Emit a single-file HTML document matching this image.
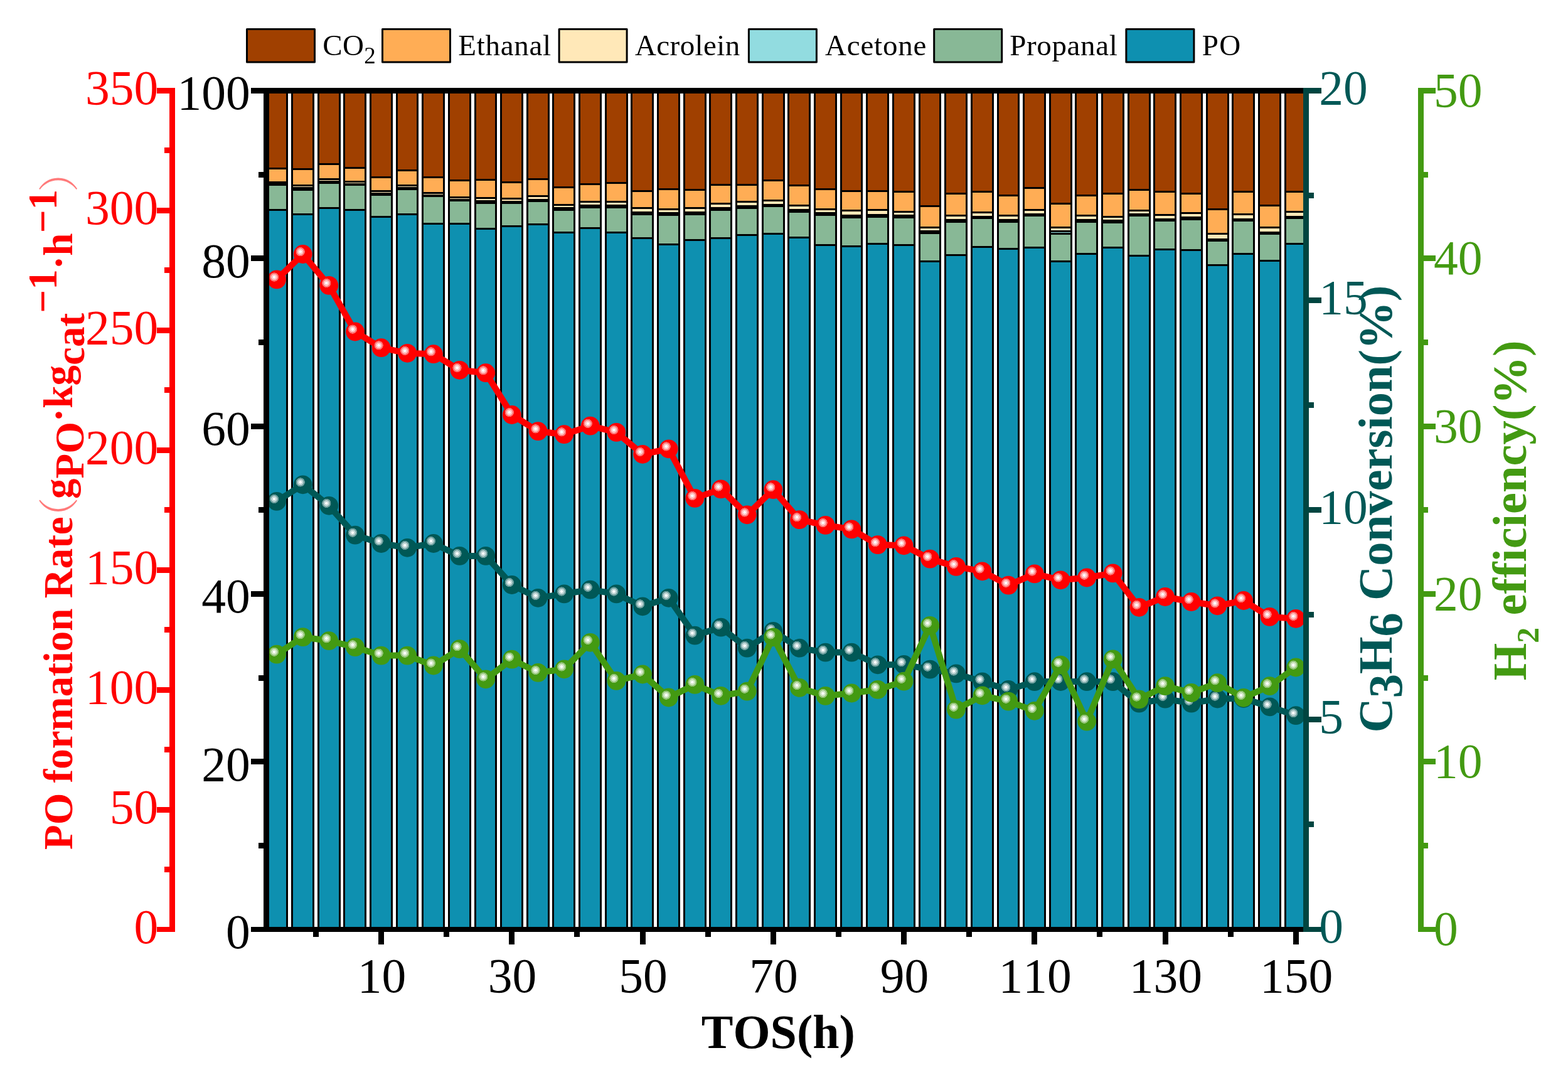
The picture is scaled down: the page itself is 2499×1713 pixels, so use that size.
<!DOCTYPE html>
<html lang="en"><head><meta charset="utf-8"><title>PO formation rate, conversion and selectivity vs TOS</title>
<style>html,body{margin:0;padding:0;background:#fff;}body{width:2499px;height:1713px;overflow:hidden;}svg{display:block;}text{font-family:'Liberation Serif','Noto Serif CJK SC',serif;font-variant-ligatures:none;font-kerning:none;}.b{font-weight:bold;}</style></head><body>
<svg width="2499" height="1713" viewBox="0 0 2499 1713" role="img" aria-label="Stacked bar and line chart">
<defs>
<clipPath id="plot"><rect x="429" y="149" width="1648" height="1328"/></clipPath>
<radialGradient id="gr" cx="0.366" cy="0.370" r="0.245" fx="0.366" fy="0.370"><stop offset="0" stop-color="#fff"/><stop offset="0.26" stop-color="#fff"/><stop offset="0.34" stop-color="#FFC4C4"/><stop offset="0.62" stop-color="#FFC4C4"/><stop offset="0.70" stop-color="#FF7474"/><stop offset="0.94" stop-color="#FF7474"/><stop offset="1" stop-color="#FF0000"/></radialGradient>
<radialGradient id="gt" cx="0.366" cy="0.370" r="0.245" fx="0.366" fy="0.370"><stop offset="0" stop-color="#fff"/><stop offset="0.26" stop-color="#fff"/><stop offset="0.34" stop-color="#BFD5D5"/><stop offset="0.62" stop-color="#BFD5D5"/><stop offset="0.70" stop-color="#70A1A0"/><stop offset="0.94" stop-color="#70A1A0"/><stop offset="1" stop-color="#005856"/></radialGradient>
<radialGradient id="gg" cx="0.366" cy="0.370" r="0.245" fx="0.366" fy="0.370"><stop offset="0" stop-color="#fff"/><stop offset="0.26" stop-color="#fff"/><stop offset="0.34" stop-color="#D0E6C4"/><stop offset="0.62" stop-color="#D0E6C4"/><stop offset="0.70" stop-color="#96C67A"/><stop offset="0.94" stop-color="#96C67A"/><stop offset="1" stop-color="#439A12"/></radialGradient>
</defs>
<rect width="2499" height="1713" fill="#fff"/>
<g clip-path="url(#plot)"><g stroke="#000" stroke-width="3" stroke-linejoin="miter">
<rect x="423.5" y="144.5" width="34.0" height="124.0" fill="#A04000"/>
<rect x="423.5" y="268.5" width="34.0" height="22.0" fill="#FFAD55"/>
<rect x="423.5" y="290.5" width="34.0" height="2.0" fill="#FFE8B8"/>
<rect x="423.5" y="292.5" width="34.0" height="2.0" fill="#92DCE0"/>
<rect x="423.5" y="294.5" width="34.0" height="40.0" fill="#88B896"/>
<rect x="423.5" y="334.5" width="34.0" height="1146.5" fill="#0E90B0"/>
<rect x="465.5" y="144.5" width="34.0" height="125.0" fill="#A04000"/>
<rect x="465.5" y="269.5" width="34.0" height="26.0" fill="#FFAD55"/>
<rect x="465.5" y="295.5" width="34.0" height="4.0" fill="#FFE8B8"/>
<rect x="465.5" y="299.5" width="34.0" height="3.0" fill="#92DCE0"/>
<rect x="465.5" y="302.5" width="34.0" height="39.0" fill="#88B896"/>
<rect x="465.5" y="341.5" width="34.0" height="1139.5" fill="#0E90B0"/>
<rect x="507.5" y="144.5" width="34.0" height="117.0" fill="#A04000"/>
<rect x="507.5" y="261.5" width="34.0" height="24.0" fill="#FFAD55"/>
<rect x="507.5" y="285.5" width="34.0" height="4.0" fill="#FFE8B8"/>
<rect x="507.5" y="289.5" width="34.0" height="2.0" fill="#92DCE0"/>
<rect x="507.5" y="291.5" width="34.0" height="40.0" fill="#88B896"/>
<rect x="507.5" y="331.5" width="34.0" height="1149.5" fill="#0E90B0"/>
<rect x="548.5" y="144.5" width="34.0" height="123.0" fill="#A04000"/>
<rect x="548.5" y="267.5" width="34.0" height="22.0" fill="#FFAD55"/>
<rect x="548.5" y="289.5" width="34.0" height="4.0" fill="#FFE8B8"/>
<rect x="548.5" y="293.5" width="34.0" height="1.0" fill="#92DCE0"/>
<rect x="548.5" y="294.5" width="34.0" height="40.0" fill="#88B896"/>
<rect x="548.5" y="334.5" width="34.0" height="1146.5" fill="#0E90B0"/>
<rect x="590.5" y="144.5" width="34.0" height="138.0" fill="#A04000"/>
<rect x="590.5" y="282.5" width="34.0" height="22.0" fill="#FFAD55"/>
<rect x="590.5" y="304.5" width="34.0" height="4.0" fill="#FFE8B8"/>
<rect x="590.5" y="308.5" width="34.0" height="2.0" fill="#92DCE0"/>
<rect x="590.5" y="310.5" width="34.0" height="35.0" fill="#88B896"/>
<rect x="590.5" y="345.5" width="34.0" height="1135.5" fill="#0E90B0"/>
<rect x="632.5" y="144.5" width="33.0" height="127.0" fill="#A04000"/>
<rect x="632.5" y="271.5" width="33.0" height="24.0" fill="#FFAD55"/>
<rect x="632.5" y="295.5" width="33.0" height="4.0" fill="#FFE8B8"/>
<rect x="632.5" y="299.5" width="33.0" height="2.0" fill="#92DCE0"/>
<rect x="632.5" y="301.5" width="33.0" height="40.0" fill="#88B896"/>
<rect x="632.5" y="341.5" width="33.0" height="1139.5" fill="#0E90B0"/>
<rect x="673.5" y="144.5" width="34.0" height="138.0" fill="#A04000"/>
<rect x="673.5" y="282.5" width="34.0" height="25.0" fill="#FFAD55"/>
<rect x="673.5" y="307.5" width="34.0" height="4.0" fill="#FFE8B8"/>
<rect x="673.5" y="311.5" width="34.0" height="1.0" fill="#92DCE0"/>
<rect x="673.5" y="312.5" width="34.0" height="44.0" fill="#88B896"/>
<rect x="673.5" y="356.5" width="34.0" height="1124.5" fill="#0E90B0"/>
<rect x="715.5" y="144.5" width="34.0" height="143.0" fill="#A04000"/>
<rect x="715.5" y="287.5" width="34.0" height="27.0" fill="#FFAD55"/>
<rect x="715.5" y="314.5" width="34.0" height="4.0" fill="#FFE8B8"/>
<rect x="715.5" y="318.5" width="34.0" height="1.0" fill="#92DCE0"/>
<rect x="715.5" y="319.5" width="34.0" height="37.0" fill="#88B896"/>
<rect x="715.5" y="356.5" width="34.0" height="1124.5" fill="#0E90B0"/>
<rect x="757.5" y="144.5" width="33.0" height="142.0" fill="#A04000"/>
<rect x="757.5" y="286.5" width="33.0" height="29.0" fill="#FFAD55"/>
<rect x="757.5" y="315.5" width="33.0" height="5.0" fill="#FFE8B8"/>
<rect x="757.5" y="320.5" width="33.0" height="3.0" fill="#92DCE0"/>
<rect x="757.5" y="323.5" width="33.0" height="41.0" fill="#88B896"/>
<rect x="757.5" y="364.5" width="33.0" height="1116.5" fill="#0E90B0"/>
<rect x="798.5" y="144.5" width="34.0" height="146.0" fill="#A04000"/>
<rect x="798.5" y="290.5" width="34.0" height="26.0" fill="#FFAD55"/>
<rect x="798.5" y="316.5" width="34.0" height="5.0" fill="#FFE8B8"/>
<rect x="798.5" y="321.5" width="34.0" height="2.0" fill="#92DCE0"/>
<rect x="798.5" y="323.5" width="34.0" height="37.0" fill="#88B896"/>
<rect x="798.5" y="360.5" width="34.0" height="1120.5" fill="#0E90B0"/>
<rect x="840.5" y="144.5" width="34.0" height="141.0" fill="#A04000"/>
<rect x="840.5" y="285.5" width="34.0" height="27.0" fill="#FFAD55"/>
<rect x="840.5" y="312.5" width="34.0" height="6.0" fill="#FFE8B8"/>
<rect x="840.5" y="318.5" width="34.0" height="2.0" fill="#92DCE0"/>
<rect x="840.5" y="320.5" width="34.0" height="37.0" fill="#88B896"/>
<rect x="840.5" y="357.5" width="34.0" height="1123.5" fill="#0E90B0"/>
<rect x="881.5" y="144.5" width="34.0" height="154.0" fill="#A04000"/>
<rect x="881.5" y="298.5" width="34.0" height="28.0" fill="#FFAD55"/>
<rect x="881.5" y="326.5" width="34.0" height="5.0" fill="#FFE8B8"/>
<rect x="881.5" y="331.5" width="34.0" height="3.0" fill="#92DCE0"/>
<rect x="881.5" y="334.5" width="34.0" height="36.0" fill="#88B896"/>
<rect x="881.5" y="370.5" width="34.0" height="1110.5" fill="#0E90B0"/>
<rect x="923.5" y="144.5" width="34.0" height="149.0" fill="#A04000"/>
<rect x="923.5" y="293.5" width="34.0" height="28.0" fill="#FFAD55"/>
<rect x="923.5" y="321.5" width="34.0" height="6.0" fill="#FFE8B8"/>
<rect x="923.5" y="327.5" width="34.0" height="3.0" fill="#92DCE0"/>
<rect x="923.5" y="330.5" width="34.0" height="33.0" fill="#88B896"/>
<rect x="923.5" y="363.5" width="34.0" height="1117.5" fill="#0E90B0"/>
<rect x="965.5" y="144.5" width="34.0" height="147.0" fill="#A04000"/>
<rect x="965.5" y="291.5" width="34.0" height="30.0" fill="#FFAD55"/>
<rect x="965.5" y="321.5" width="34.0" height="6.0" fill="#FFE8B8"/>
<rect x="965.5" y="327.5" width="34.0" height="3.0" fill="#92DCE0"/>
<rect x="965.5" y="330.5" width="34.0" height="40.0" fill="#88B896"/>
<rect x="965.5" y="370.5" width="34.0" height="1110.5" fill="#0E90B0"/>
<rect x="1006.5" y="144.5" width="34.0" height="160.0" fill="#A04000"/>
<rect x="1006.5" y="304.5" width="34.0" height="27.0" fill="#FFAD55"/>
<rect x="1006.5" y="331.5" width="34.0" height="7.0" fill="#FFE8B8"/>
<rect x="1006.5" y="338.5" width="34.0" height="3.0" fill="#92DCE0"/>
<rect x="1006.5" y="341.5" width="34.0" height="38.0" fill="#88B896"/>
<rect x="1006.5" y="379.5" width="34.0" height="1101.5" fill="#0E90B0"/>
<rect x="1048.5" y="144.5" width="34.0" height="157.0" fill="#A04000"/>
<rect x="1048.5" y="301.5" width="34.0" height="32.0" fill="#FFAD55"/>
<rect x="1048.5" y="333.5" width="34.0" height="6.0" fill="#FFE8B8"/>
<rect x="1048.5" y="339.5" width="34.0" height="3.0" fill="#92DCE0"/>
<rect x="1048.5" y="342.5" width="34.0" height="47.0" fill="#88B896"/>
<rect x="1048.5" y="389.5" width="34.0" height="1091.5" fill="#0E90B0"/>
<rect x="1090.5" y="144.5" width="34.0" height="158.0" fill="#A04000"/>
<rect x="1090.5" y="302.5" width="34.0" height="29.0" fill="#FFAD55"/>
<rect x="1090.5" y="331.5" width="34.0" height="7.0" fill="#FFE8B8"/>
<rect x="1090.5" y="338.5" width="34.0" height="3.0" fill="#92DCE0"/>
<rect x="1090.5" y="341.5" width="34.0" height="41.0" fill="#88B896"/>
<rect x="1090.5" y="382.5" width="34.0" height="1098.5" fill="#0E90B0"/>
<rect x="1131.5" y="144.5" width="34.0" height="150.0" fill="#A04000"/>
<rect x="1131.5" y="294.5" width="34.0" height="30.0" fill="#FFAD55"/>
<rect x="1131.5" y="324.5" width="34.0" height="7.0" fill="#FFE8B8"/>
<rect x="1131.5" y="331.5" width="34.0" height="3.0" fill="#92DCE0"/>
<rect x="1131.5" y="334.5" width="34.0" height="45.0" fill="#88B896"/>
<rect x="1131.5" y="379.5" width="34.0" height="1101.5" fill="#0E90B0"/>
<rect x="1173.5" y="144.5" width="34.0" height="150.0" fill="#A04000"/>
<rect x="1173.5" y="294.5" width="34.0" height="27.0" fill="#FFAD55"/>
<rect x="1173.5" y="321.5" width="34.0" height="7.0" fill="#FFE8B8"/>
<rect x="1173.5" y="328.5" width="34.0" height="3.0" fill="#92DCE0"/>
<rect x="1173.5" y="331.5" width="34.0" height="43.0" fill="#88B896"/>
<rect x="1173.5" y="374.5" width="34.0" height="1106.5" fill="#0E90B0"/>
<rect x="1215.5" y="144.5" width="34.0" height="143.0" fill="#A04000"/>
<rect x="1215.5" y="287.5" width="34.0" height="32.0" fill="#FFAD55"/>
<rect x="1215.5" y="319.5" width="34.0" height="7.0" fill="#FFE8B8"/>
<rect x="1215.5" y="326.5" width="34.0" height="2.0" fill="#92DCE0"/>
<rect x="1215.5" y="328.5" width="34.0" height="44.0" fill="#88B896"/>
<rect x="1215.5" y="372.5" width="34.0" height="1108.5" fill="#0E90B0"/>
<rect x="1256.5" y="144.5" width="34.0" height="151.0" fill="#A04000"/>
<rect x="1256.5" y="295.5" width="34.0" height="32.0" fill="#FFAD55"/>
<rect x="1256.5" y="327.5" width="34.0" height="7.0" fill="#FFE8B8"/>
<rect x="1256.5" y="334.5" width="34.0" height="3.0" fill="#92DCE0"/>
<rect x="1256.5" y="337.5" width="34.0" height="41.0" fill="#88B896"/>
<rect x="1256.5" y="378.5" width="34.0" height="1102.5" fill="#0E90B0"/>
<rect x="1298.5" y="144.5" width="34.0" height="157.0" fill="#A04000"/>
<rect x="1298.5" y="301.5" width="34.0" height="32.0" fill="#FFAD55"/>
<rect x="1298.5" y="333.5" width="34.0" height="6.0" fill="#FFE8B8"/>
<rect x="1298.5" y="339.5" width="34.0" height="3.0" fill="#92DCE0"/>
<rect x="1298.5" y="342.5" width="34.0" height="48.0" fill="#88B896"/>
<rect x="1298.5" y="390.5" width="34.0" height="1090.5" fill="#0E90B0"/>
<rect x="1340.5" y="144.5" width="33.0" height="160.0" fill="#A04000"/>
<rect x="1340.5" y="304.5" width="33.0" height="31.0" fill="#FFAD55"/>
<rect x="1340.5" y="335.5" width="33.0" height="8.0" fill="#FFE8B8"/>
<rect x="1340.5" y="343.5" width="33.0" height="3.0" fill="#92DCE0"/>
<rect x="1340.5" y="346.5" width="33.0" height="46.0" fill="#88B896"/>
<rect x="1340.5" y="392.5" width="33.0" height="1088.5" fill="#0E90B0"/>
<rect x="1381.5" y="144.5" width="34.0" height="160.0" fill="#A04000"/>
<rect x="1381.5" y="304.5" width="34.0" height="30.0" fill="#FFAD55"/>
<rect x="1381.5" y="334.5" width="34.0" height="8.0" fill="#FFE8B8"/>
<rect x="1381.5" y="342.5" width="34.0" height="3.0" fill="#92DCE0"/>
<rect x="1381.5" y="345.5" width="34.0" height="43.0" fill="#88B896"/>
<rect x="1381.5" y="388.5" width="34.0" height="1092.5" fill="#0E90B0"/>
<rect x="1423.5" y="144.5" width="34.0" height="161.0" fill="#A04000"/>
<rect x="1423.5" y="305.5" width="34.0" height="32.0" fill="#FFAD55"/>
<rect x="1423.5" y="337.5" width="34.0" height="6.0" fill="#FFE8B8"/>
<rect x="1423.5" y="343.5" width="34.0" height="3.0" fill="#92DCE0"/>
<rect x="1423.5" y="346.5" width="34.0" height="44.0" fill="#88B896"/>
<rect x="1423.5" y="390.5" width="34.0" height="1090.5" fill="#0E90B0"/>
<rect x="1465.5" y="144.5" width="33.0" height="184.0" fill="#A04000"/>
<rect x="1465.5" y="328.5" width="33.0" height="34.0" fill="#FFAD55"/>
<rect x="1465.5" y="362.5" width="33.0" height="6.0" fill="#FFE8B8"/>
<rect x="1465.5" y="368.5" width="33.0" height="3.0" fill="#92DCE0"/>
<rect x="1465.5" y="371.5" width="33.0" height="45.0" fill="#88B896"/>
<rect x="1465.5" y="416.5" width="33.0" height="1064.5" fill="#0E90B0"/>
<rect x="1506.5" y="144.5" width="34.0" height="164.0" fill="#A04000"/>
<rect x="1506.5" y="308.5" width="34.0" height="35.0" fill="#FFAD55"/>
<rect x="1506.5" y="343.5" width="34.0" height="7.0" fill="#FFE8B8"/>
<rect x="1506.5" y="350.5" width="34.0" height="3.0" fill="#92DCE0"/>
<rect x="1506.5" y="353.5" width="34.0" height="53.0" fill="#88B896"/>
<rect x="1506.5" y="406.5" width="34.0" height="1074.5" fill="#0E90B0"/>
<rect x="1548.5" y="144.5" width="34.0" height="161.0" fill="#A04000"/>
<rect x="1548.5" y="305.5" width="34.0" height="33.0" fill="#FFAD55"/>
<rect x="1548.5" y="338.5" width="34.0" height="7.0" fill="#FFE8B8"/>
<rect x="1548.5" y="345.5" width="34.0" height="2.0" fill="#92DCE0"/>
<rect x="1548.5" y="347.5" width="34.0" height="46.0" fill="#88B896"/>
<rect x="1548.5" y="393.5" width="34.0" height="1087.5" fill="#0E90B0"/>
<rect x="1590.5" y="144.5" width="33.0" height="167.0" fill="#A04000"/>
<rect x="1590.5" y="311.5" width="33.0" height="32.0" fill="#FFAD55"/>
<rect x="1590.5" y="343.5" width="33.0" height="7.0" fill="#FFE8B8"/>
<rect x="1590.5" y="350.5" width="33.0" height="3.0" fill="#92DCE0"/>
<rect x="1590.5" y="353.5" width="33.0" height="43.0" fill="#88B896"/>
<rect x="1590.5" y="396.5" width="33.0" height="1084.5" fill="#0E90B0"/>
<rect x="1631.5" y="144.5" width="34.0" height="155.0" fill="#A04000"/>
<rect x="1631.5" y="299.5" width="34.0" height="35.0" fill="#FFAD55"/>
<rect x="1631.5" y="334.5" width="34.0" height="7.0" fill="#FFE8B8"/>
<rect x="1631.5" y="341.5" width="34.0" height="2.0" fill="#92DCE0"/>
<rect x="1631.5" y="343.5" width="34.0" height="51.0" fill="#88B896"/>
<rect x="1631.5" y="394.5" width="34.0" height="1086.5" fill="#0E90B0"/>
<rect x="1673.5" y="144.5" width="34.0" height="180.0" fill="#A04000"/>
<rect x="1673.5" y="324.5" width="34.0" height="38.0" fill="#FFAD55"/>
<rect x="1673.5" y="362.5" width="34.0" height="6.0" fill="#FFE8B8"/>
<rect x="1673.5" y="368.5" width="34.0" height="4.0" fill="#92DCE0"/>
<rect x="1673.5" y="372.5" width="34.0" height="44.0" fill="#88B896"/>
<rect x="1673.5" y="416.5" width="34.0" height="1064.5" fill="#0E90B0"/>
<rect x="1714.5" y="144.5" width="34.0" height="167.0" fill="#A04000"/>
<rect x="1714.5" y="311.5" width="34.0" height="32.0" fill="#FFAD55"/>
<rect x="1714.5" y="343.5" width="34.0" height="7.0" fill="#FFE8B8"/>
<rect x="1714.5" y="350.5" width="34.0" height="3.0" fill="#92DCE0"/>
<rect x="1714.5" y="353.5" width="34.0" height="51.0" fill="#88B896"/>
<rect x="1714.5" y="404.5" width="34.0" height="1076.5" fill="#0E90B0"/>
<rect x="1756.5" y="144.5" width="34.0" height="164.0" fill="#A04000"/>
<rect x="1756.5" y="308.5" width="34.0" height="37.0" fill="#FFAD55"/>
<rect x="1756.5" y="345.5" width="34.0" height="6.0" fill="#FFE8B8"/>
<rect x="1756.5" y="351.5" width="34.0" height="3.0" fill="#92DCE0"/>
<rect x="1756.5" y="354.5" width="34.0" height="40.0" fill="#88B896"/>
<rect x="1756.5" y="394.5" width="34.0" height="1086.5" fill="#0E90B0"/>
<rect x="1798.5" y="144.5" width="34.0" height="158.0" fill="#A04000"/>
<rect x="1798.5" y="302.5" width="34.0" height="33.0" fill="#FFAD55"/>
<rect x="1798.5" y="335.5" width="34.0" height="6.0" fill="#FFE8B8"/>
<rect x="1798.5" y="341.5" width="34.0" height="2.0" fill="#92DCE0"/>
<rect x="1798.5" y="343.5" width="34.0" height="64.0" fill="#88B896"/>
<rect x="1798.5" y="407.5" width="34.0" height="1073.5" fill="#0E90B0"/>
<rect x="1839.5" y="144.5" width="34.0" height="161.0" fill="#A04000"/>
<rect x="1839.5" y="305.5" width="34.0" height="37.0" fill="#FFAD55"/>
<rect x="1839.5" y="342.5" width="34.0" height="7.0" fill="#FFE8B8"/>
<rect x="1839.5" y="349.5" width="34.0" height="2.0" fill="#92DCE0"/>
<rect x="1839.5" y="351.5" width="34.0" height="46.0" fill="#88B896"/>
<rect x="1839.5" y="397.5" width="34.0" height="1083.5" fill="#0E90B0"/>
<rect x="1881.5" y="144.5" width="34.0" height="164.0" fill="#A04000"/>
<rect x="1881.5" y="308.5" width="34.0" height="31.0" fill="#FFAD55"/>
<rect x="1881.5" y="339.5" width="34.0" height="7.0" fill="#FFE8B8"/>
<rect x="1881.5" y="346.5" width="34.0" height="3.0" fill="#92DCE0"/>
<rect x="1881.5" y="349.5" width="34.0" height="49.0" fill="#88B896"/>
<rect x="1881.5" y="398.5" width="34.0" height="1082.5" fill="#0E90B0"/>
<rect x="1923.5" y="144.5" width="34.0" height="189.0" fill="#A04000"/>
<rect x="1923.5" y="333.5" width="34.0" height="39.0" fill="#FFAD55"/>
<rect x="1923.5" y="372.5" width="34.0" height="9.0" fill="#FFE8B8"/>
<rect x="1923.5" y="381.5" width="34.0" height="2.0" fill="#92DCE0"/>
<rect x="1923.5" y="383.5" width="34.0" height="39.0" fill="#88B896"/>
<rect x="1923.5" y="422.5" width="34.0" height="1058.5" fill="#0E90B0"/>
<rect x="1964.5" y="144.5" width="34.0" height="161.0" fill="#A04000"/>
<rect x="1964.5" y="305.5" width="34.0" height="36.0" fill="#FFAD55"/>
<rect x="1964.5" y="341.5" width="34.0" height="8.0" fill="#FFE8B8"/>
<rect x="1964.5" y="349.5" width="34.0" height="2.0" fill="#92DCE0"/>
<rect x="1964.5" y="351.5" width="34.0" height="53.0" fill="#88B896"/>
<rect x="1964.5" y="404.5" width="34.0" height="1076.5" fill="#0E90B0"/>
<rect x="2006.5" y="144.5" width="34.0" height="183.0" fill="#A04000"/>
<rect x="2006.5" y="327.5" width="34.0" height="35.0" fill="#FFAD55"/>
<rect x="2006.5" y="362.5" width="34.0" height="8.0" fill="#FFE8B8"/>
<rect x="2006.5" y="370.5" width="34.0" height="2.0" fill="#92DCE0"/>
<rect x="2006.5" y="372.5" width="34.0" height="43.0" fill="#88B896"/>
<rect x="2006.5" y="415.5" width="34.0" height="1065.5" fill="#0E90B0"/>
<rect x="2048.5" y="144.5" width="33.0" height="161.0" fill="#A04000"/>
<rect x="2048.5" y="305.5" width="33.0" height="32.0" fill="#FFAD55"/>
<rect x="2048.5" y="337.5" width="33.0" height="8.0" fill="#FFE8B8"/>
<rect x="2048.5" y="345.5" width="33.0" height="2.0" fill="#92DCE0"/>
<rect x="2048.5" y="347.5" width="33.0" height="41.0" fill="#88B896"/>
<rect x="2048.5" y="388.5" width="33.0" height="1092.5" fill="#0E90B0"/>
</g>
<polyline points="441.0,445.4 482.7,405.0 524.3,454.9 566.0,528.5 607.6,554.2 649.2,562.8 690.9,564.2 732.5,589.8 774.2,594.2 815.8,661.0 857.5,687.2 899.1,692.2 940.8,678.7 982.4,688.9 1024.1,723.8 1065.7,715.3 1107.4,793.9 1149.0,779.4 1190.7,820.3 1232.3,780.2 1274.0,828.1 1315.6,836.9 1357.3,843.4 1398.9,868.1 1440.6,869.3 1482.2,890.7 1523.9,902.9 1565.5,910.3 1607.2,932.7 1648.8,914.4 1690.4,924.3 1732.1,920.5 1773.7,913.4 1815.4,967.8 1857.0,951.0 1898.7,959.0 1940.3,965.3 1982.0,957.0 2023.6,982.9 2065.3,985.8" fill="none" stroke="#FF0000" stroke-width="10" stroke-linejoin="round" stroke-linecap="round"/>
<g fill="url(#gr)">
<circle cx="441.0" cy="445.4" r="14.9"/>
<circle cx="482.7" cy="405.0" r="14.9"/>
<circle cx="524.3" cy="454.9" r="14.9"/>
<circle cx="566.0" cy="528.5" r="14.9"/>
<circle cx="607.6" cy="554.2" r="14.9"/>
<circle cx="649.2" cy="562.8" r="14.9"/>
<circle cx="690.9" cy="564.2" r="14.9"/>
<circle cx="732.5" cy="589.8" r="14.9"/>
<circle cx="774.2" cy="594.2" r="14.9"/>
<circle cx="815.8" cy="661.0" r="14.9"/>
<circle cx="857.5" cy="687.2" r="14.9"/>
<circle cx="899.1" cy="692.2" r="14.9"/>
<circle cx="940.8" cy="678.7" r="14.9"/>
<circle cx="982.4" cy="688.9" r="14.9"/>
<circle cx="1024.1" cy="723.8" r="14.9"/>
<circle cx="1065.7" cy="715.3" r="14.9"/>
<circle cx="1107.4" cy="793.9" r="14.9"/>
<circle cx="1149.0" cy="779.4" r="14.9"/>
<circle cx="1190.7" cy="820.3" r="14.9"/>
<circle cx="1232.3" cy="780.2" r="14.9"/>
<circle cx="1274.0" cy="828.1" r="14.9"/>
<circle cx="1315.6" cy="836.9" r="14.9"/>
<circle cx="1357.3" cy="843.4" r="14.9"/>
<circle cx="1398.9" cy="868.1" r="14.9"/>
<circle cx="1440.6" cy="869.3" r="14.9"/>
<circle cx="1482.2" cy="890.7" r="14.9"/>
<circle cx="1523.9" cy="902.9" r="14.9"/>
<circle cx="1565.5" cy="910.3" r="14.9"/>
<circle cx="1607.2" cy="932.7" r="14.9"/>
<circle cx="1648.8" cy="914.4" r="14.9"/>
<circle cx="1690.4" cy="924.3" r="14.9"/>
<circle cx="1732.1" cy="920.5" r="14.9"/>
<circle cx="1773.7" cy="913.4" r="14.9"/>
<circle cx="1815.4" cy="967.8" r="14.9"/>
<circle cx="1857.0" cy="951.0" r="14.9"/>
<circle cx="1898.7" cy="959.0" r="14.9"/>
<circle cx="1940.3" cy="965.3" r="14.9"/>
<circle cx="1982.0" cy="957.0" r="14.9"/>
<circle cx="2023.6" cy="982.9" r="14.9"/>
<circle cx="2065.3" cy="985.8" r="14.9"/>
</g>
<polyline points="441.0,798.9 482.7,772.3 524.3,805.8 566.0,852.6 607.6,866.0 649.2,872.8 690.9,866.0 732.5,885.9 774.2,885.9 815.8,932.0 857.5,952.8 899.1,946.4 940.8,939.7 982.4,946.4 1024.1,966.3 1065.7,952.8 1107.4,1012.6 1149.0,999.7 1190.7,1032.7 1232.3,1005.8 1274.0,1032.7 1315.6,1039.6 1357.3,1039.6 1398.9,1059.3 1440.6,1059.0 1482.2,1066.6 1523.9,1073.4 1565.5,1086.4 1607.2,1099.0 1648.8,1086.2 1690.4,1086.0 1732.1,1086.2 1773.7,1086.2 1815.4,1120.6 1857.0,1113.7 1898.7,1120.6 1940.3,1113.5 1982.0,1113.0 2023.6,1126.3 2065.3,1140.1" fill="none" stroke="#005856" stroke-width="10" stroke-linejoin="round" stroke-linecap="round"/>
<g fill="url(#gt)">
<circle cx="441.0" cy="798.9" r="14.9"/>
<circle cx="482.7" cy="772.3" r="14.9"/>
<circle cx="524.3" cy="805.8" r="14.9"/>
<circle cx="566.0" cy="852.6" r="14.9"/>
<circle cx="607.6" cy="866.0" r="14.9"/>
<circle cx="649.2" cy="872.8" r="14.9"/>
<circle cx="690.9" cy="866.0" r="14.9"/>
<circle cx="732.5" cy="885.9" r="14.9"/>
<circle cx="774.2" cy="885.9" r="14.9"/>
<circle cx="815.8" cy="932.0" r="14.9"/>
<circle cx="857.5" cy="952.8" r="14.9"/>
<circle cx="899.1" cy="946.4" r="14.9"/>
<circle cx="940.8" cy="939.7" r="14.9"/>
<circle cx="982.4" cy="946.4" r="14.9"/>
<circle cx="1024.1" cy="966.3" r="14.9"/>
<circle cx="1065.7" cy="952.8" r="14.9"/>
<circle cx="1107.4" cy="1012.6" r="14.9"/>
<circle cx="1149.0" cy="999.7" r="14.9"/>
<circle cx="1190.7" cy="1032.7" r="14.9"/>
<circle cx="1232.3" cy="1005.8" r="14.9"/>
<circle cx="1274.0" cy="1032.7" r="14.9"/>
<circle cx="1315.6" cy="1039.6" r="14.9"/>
<circle cx="1357.3" cy="1039.6" r="14.9"/>
<circle cx="1398.9" cy="1059.3" r="14.9"/>
<circle cx="1440.6" cy="1059.0" r="14.9"/>
<circle cx="1482.2" cy="1066.6" r="14.9"/>
<circle cx="1523.9" cy="1073.4" r="14.9"/>
<circle cx="1565.5" cy="1086.4" r="14.9"/>
<circle cx="1607.2" cy="1099.0" r="14.9"/>
<circle cx="1648.8" cy="1086.2" r="14.9"/>
<circle cx="1690.4" cy="1086.0" r="14.9"/>
<circle cx="1732.1" cy="1086.2" r="14.9"/>
<circle cx="1773.7" cy="1086.2" r="14.9"/>
<circle cx="1815.4" cy="1120.6" r="14.9"/>
<circle cx="1857.0" cy="1113.7" r="14.9"/>
<circle cx="1898.7" cy="1120.6" r="14.9"/>
<circle cx="1940.3" cy="1113.5" r="14.9"/>
<circle cx="1982.0" cy="1113.0" r="14.9"/>
<circle cx="2023.6" cy="1126.3" r="14.9"/>
<circle cx="2065.3" cy="1140.1" r="14.9"/>
</g>
<polyline points="441.0,1042.6 482.7,1015.1 524.3,1021.2 566.0,1031.2 607.6,1044.6 649.2,1044.6 690.9,1060.5 732.5,1034.1 774.2,1082.3 815.8,1050.6 857.5,1071.9 899.1,1066.3 940.8,1023.8 982.4,1084.9 1024.1,1074.5 1065.7,1111.5 1107.4,1090.9 1149.0,1108.8 1190.7,1101.6 1232.3,1015.3 1274.0,1095.9 1315.6,1108.9 1357.3,1104.5 1398.9,1098.9 1440.6,1085.7 1482.2,996.8 1523.9,1130.6 1565.5,1108.3 1607.2,1117.6 1648.8,1132.8 1690.4,1059.6 1732.1,1149.6 1773.7,1050.3 1815.4,1114.4 1857.0,1093.1 1898.7,1104.0 1940.3,1088.2 1982.0,1111.8 2023.6,1093.2 2065.3,1063.5" fill="none" stroke="#439A12" stroke-width="10" stroke-linejoin="round" stroke-linecap="round"/>
<g fill="url(#gg)">
<circle cx="441.0" cy="1042.6" r="14.9"/>
<circle cx="482.7" cy="1015.1" r="14.9"/>
<circle cx="524.3" cy="1021.2" r="14.9"/>
<circle cx="566.0" cy="1031.2" r="14.9"/>
<circle cx="607.6" cy="1044.6" r="14.9"/>
<circle cx="649.2" cy="1044.6" r="14.9"/>
<circle cx="690.9" cy="1060.5" r="14.9"/>
<circle cx="732.5" cy="1034.1" r="14.9"/>
<circle cx="774.2" cy="1082.3" r="14.9"/>
<circle cx="815.8" cy="1050.6" r="14.9"/>
<circle cx="857.5" cy="1071.9" r="14.9"/>
<circle cx="899.1" cy="1066.3" r="14.9"/>
<circle cx="940.8" cy="1023.8" r="14.9"/>
<circle cx="982.4" cy="1084.9" r="14.9"/>
<circle cx="1024.1" cy="1074.5" r="14.9"/>
<circle cx="1065.7" cy="1111.5" r="14.9"/>
<circle cx="1107.4" cy="1090.9" r="14.9"/>
<circle cx="1149.0" cy="1108.8" r="14.9"/>
<circle cx="1190.7" cy="1101.6" r="14.9"/>
<circle cx="1232.3" cy="1015.3" r="14.9"/>
<circle cx="1274.0" cy="1095.9" r="14.9"/>
<circle cx="1315.6" cy="1108.9" r="14.9"/>
<circle cx="1357.3" cy="1104.5" r="14.9"/>
<circle cx="1398.9" cy="1098.9" r="14.9"/>
<circle cx="1440.6" cy="1085.7" r="14.9"/>
<circle cx="1482.2" cy="996.8" r="14.9"/>
<circle cx="1523.9" cy="1130.6" r="14.9"/>
<circle cx="1565.5" cy="1108.3" r="14.9"/>
<circle cx="1607.2" cy="1117.6" r="14.9"/>
<circle cx="1648.8" cy="1132.8" r="14.9"/>
<circle cx="1690.4" cy="1059.6" r="14.9"/>
<circle cx="1732.1" cy="1149.6" r="14.9"/>
<circle cx="1773.7" cy="1050.3" r="14.9"/>
<circle cx="1815.4" cy="1114.4" r="14.9"/>
<circle cx="1857.0" cy="1093.1" r="14.9"/>
<circle cx="1898.7" cy="1104.0" r="14.9"/>
<circle cx="1940.3" cy="1088.2" r="14.9"/>
<circle cx="1982.0" cy="1111.8" r="14.9"/>
<circle cx="2023.6" cy="1093.2" r="14.9"/>
<circle cx="2065.3" cy="1063.5" r="14.9"/>
</g>
</g>
<rect x="420.0" y="140.0" width="9.0" height="1345.0" fill="#000"/>
<rect x="400.0" y="140.0" width="1677.0" height="9.0" fill="#000"/>
<rect x="400.0" y="1477.0" width="1677.0" height="8.0" fill="#000"/>
<rect x="412.0" y="1343.0" width="9.0" height="9.0" fill="#000"/>
<rect x="400.0" y="1209.0" width="21.0" height="9.0" fill="#000"/>
<rect x="412.0" y="1076.0" width="9.0" height="9.0" fill="#000"/>
<rect x="400.0" y="942.0" width="21.0" height="9.0" fill="#000"/>
<rect x="412.0" y="808.0" width="9.0" height="9.0" fill="#000"/>
<rect x="400.0" y="675.0" width="21.0" height="9.0" fill="#000"/>
<rect x="412.0" y="541.0" width="9.0" height="9.0" fill="#000"/>
<rect x="400.0" y="407.0" width="21.0" height="9.0" fill="#000"/>
<rect x="412.0" y="274.0" width="9.0" height="9.0" fill="#000"/>
<rect x="499.0" y="1484.0" width="9.0" height="9.0" fill="#000"/>
<rect x="603.0" y="1484.0" width="9.0" height="21.0" fill="#000"/>
<rect x="707.0" y="1484.0" width="9.0" height="9.0" fill="#000"/>
<rect x="811.0" y="1484.0" width="9.0" height="21.0" fill="#000"/>
<rect x="915.0" y="1484.0" width="9.0" height="9.0" fill="#000"/>
<rect x="1020.0" y="1484.0" width="9.0" height="21.0" fill="#000"/>
<rect x="1124.0" y="1484.0" width="9.0" height="9.0" fill="#000"/>
<rect x="1228.0" y="1484.0" width="9.0" height="21.0" fill="#000"/>
<rect x="1332.0" y="1484.0" width="9.0" height="9.0" fill="#000"/>
<rect x="1436.0" y="1484.0" width="9.0" height="21.0" fill="#000"/>
<rect x="1540.0" y="1484.0" width="9.0" height="9.0" fill="#000"/>
<rect x="1644.0" y="1484.0" width="9.0" height="21.0" fill="#000"/>
<rect x="1748.0" y="1484.0" width="9.0" height="9.0" fill="#000"/>
<rect x="1853.0" y="1484.0" width="9.0" height="21.0" fill="#000"/>
<rect x="1957.0" y="1484.0" width="9.0" height="9.0" fill="#000"/>
<rect x="2061.0" y="1484.0" width="9.0" height="21.0" fill="#000"/>
<rect x="2077.0" y="140.0" width="9.0" height="1345.0" fill="#004540"/>
<rect x="2085.0" y="140.0" width="21.0" height="9.0" fill="#004540"/>
<rect x="2085.0" y="1477.0" width="21.0" height="8.0" fill="#004540"/>
<rect x="2085.0" y="1309.0" width="9.0" height="9.0" fill="#004540"/>
<rect x="2085.0" y="1142.0" width="21.0" height="9.0" fill="#004540"/>
<rect x="2085.0" y="975.0" width="9.0" height="9.0" fill="#004540"/>
<rect x="2085.0" y="808.0" width="21.0" height="9.0" fill="#004540"/>
<rect x="2085.0" y="641.0" width="9.0" height="9.0" fill="#004540"/>
<rect x="2085.0" y="474.0" width="21.0" height="9.0" fill="#004540"/>
<rect x="2085.0" y="307.0" width="9.0" height="9.0" fill="#004540"/>
<rect x="270.0" y="140.0" width="9.0" height="1345.0" fill="#FF0000"/>
<rect x="250.0" y="140.0" width="21.0" height="9.0" fill="#FF0000"/>
<rect x="250.0" y="1477.0" width="21.0" height="8.0" fill="#FF0000"/>
<rect x="262.0" y="1381.0" width="9.0" height="9.0" fill="#FF0000"/>
<rect x="250.0" y="1286.0" width="21.0" height="9.0" fill="#FF0000"/>
<rect x="262.0" y="1190.0" width="9.0" height="9.0" fill="#FF0000"/>
<rect x="250.0" y="1095.0" width="21.0" height="9.0" fill="#FF0000"/>
<rect x="262.0" y="999.0" width="9.0" height="9.0" fill="#FF0000"/>
<rect x="250.0" y="904.0" width="21.0" height="9.0" fill="#FF0000"/>
<rect x="262.0" y="808.0" width="9.0" height="9.0" fill="#FF0000"/>
<rect x="250.0" y="713.0" width="21.0" height="9.0" fill="#FF0000"/>
<rect x="262.0" y="617.0" width="9.0" height="9.0" fill="#FF0000"/>
<rect x="250.0" y="522.0" width="21.0" height="9.0" fill="#FF0000"/>
<rect x="262.0" y="426.0" width="9.0" height="9.0" fill="#FF0000"/>
<rect x="250.0" y="331.0" width="21.0" height="9.0" fill="#FF0000"/>
<rect x="262.0" y="235.0" width="9.0" height="9.0" fill="#FF0000"/>
<rect x="2260.0" y="140.0" width="9.0" height="1345.0" fill="#439A12"/>
<rect x="2268.0" y="140.0" width="20.0" height="9.0" fill="#439A12"/>
<rect x="2268.0" y="1477.0" width="20.0" height="8.0" fill="#439A12"/>
<rect x="2268.0" y="1343.0" width="8.0" height="9.0" fill="#439A12"/>
<rect x="2268.0" y="1209.0" width="20.0" height="9.0" fill="#439A12"/>
<rect x="2268.0" y="1076.0" width="8.0" height="9.0" fill="#439A12"/>
<rect x="2268.0" y="942.0" width="20.0" height="9.0" fill="#439A12"/>
<rect x="2268.0" y="808.0" width="8.0" height="9.0" fill="#439A12"/>
<rect x="2268.0" y="675.0" width="20.0" height="9.0" fill="#439A12"/>
<rect x="2268.0" y="541.0" width="8.0" height="9.0" fill="#439A12"/>
<rect x="2268.0" y="407.0" width="20.0" height="9.0" fill="#439A12"/>
<rect x="2268.0" y="274.0" width="8.0" height="9.0" fill="#439A12"/>
<text x="398.8" y="1510.8" font-size="77.5" text-anchor="end" fill="#000">0</text>
<text x="398.8" y="1243.5" font-size="77.5" text-anchor="end" fill="#000">20</text>
<text x="398.8" y="976.2" font-size="77.5" text-anchor="end" fill="#000">40</text>
<text x="398.8" y="708.9" font-size="77.5" text-anchor="end" fill="#000">60</text>
<text x="398.8" y="441.6" font-size="77.5" text-anchor="end" fill="#000">80</text>
<text x="398.8" y="174.3" font-size="77.5" text-anchor="end" fill="#000">100</text>
<text x="252.3" y="1502.7" font-size="77.5" text-anchor="end" fill="#FF0000">0</text>
<text x="252.3" y="1311.8" font-size="77.5" text-anchor="end" fill="#FF0000">50</text>
<text x="252.3" y="1120.8" font-size="77.5" text-anchor="end" fill="#FF0000">100</text>
<text x="252.3" y="929.9" font-size="77.5" text-anchor="end" fill="#FF0000">150</text>
<text x="252.3" y="739.0" font-size="77.5" text-anchor="end" fill="#FF0000">200</text>
<text x="252.3" y="548.1" font-size="77.5" text-anchor="end" fill="#FF0000">250</text>
<text x="252.3" y="357.1" font-size="77.5" text-anchor="end" fill="#FF0000">300</text>
<text x="252.3" y="166.2" font-size="77.5" text-anchor="end" fill="#FF0000">350</text>
<text x="2102.3" y="1502.4" font-size="77.5" text-anchor="start" fill="#005856">0</text>
<text x="2102.3" y="1168.3" font-size="77.5" text-anchor="start" fill="#005856">5</text>
<text x="2102.3" y="834.1" font-size="77.5" text-anchor="start" fill="#005856">10</text>
<text x="2102.3" y="500.0" font-size="77.5" text-anchor="start" fill="#005856">15</text>
<text x="2102.3" y="165.9" font-size="77.5" text-anchor="start" fill="#005856">20</text>
<text x="2285.0" y="1506.4" font-size="77.5" text-anchor="start" fill="#439A12">0</text>
<text x="2285.0" y="1239.1" font-size="77.5" text-anchor="start" fill="#439A12">10</text>
<text x="2285.0" y="971.8" font-size="77.5" text-anchor="start" fill="#439A12">20</text>
<text x="2285.0" y="704.5" font-size="77.5" text-anchor="start" fill="#439A12">30</text>
<text x="2285.0" y="437.2" font-size="77.5" text-anchor="start" fill="#439A12">40</text>
<text x="2285.0" y="169.9" font-size="77.5" text-anchor="start" fill="#439A12">50</text>
<text x="608.4" y="1580.6" font-size="77.5" text-anchor="middle" fill="#000">10</text>
<text x="816.6" y="1580.6" font-size="77.5" text-anchor="middle" fill="#000">30</text>
<text x="1024.9" y="1580.6" font-size="77.5" text-anchor="middle" fill="#000">50</text>
<text x="1233.1" y="1580.6" font-size="77.5" text-anchor="middle" fill="#000">70</text>
<text x="1441.4" y="1580.6" font-size="77.5" text-anchor="middle" fill="#000">90</text>
<text x="1649.6" y="1580.6" font-size="77.5" text-anchor="middle" fill="#000">110</text>
<text x="1857.8" y="1580.6" font-size="77.5" text-anchor="middle" fill="#000">130</text>
<text x="2066.1" y="1580.6" font-size="77.5" text-anchor="middle" fill="#000">150</text>
<text x="1240.3" y="1669.7" font-size="76" text-anchor="middle" fill="#000" class="b">TOS(h)</text>
<g transform="rotate(-90)">
<text x="-1354" y="115.4" font-size="65" class="b" fill="#FF0000">PO formation Rate</text>
<text x="-857.5" y="116.8" font-size="65" fill="#FF7A7A" style="font-family:'Liberation Serif','Noto Serif CJK SC','Noto Sans CJK SC',serif;font-weight:300">（</text>
<text x="-795" y="115.4" font-size="65" class="b" fill="#FF0000">g<tspan dy="18">PO</tspan><tspan dy="-18">·kg</tspan><tspan dy="18.8">cat</tspan><tspan dy="-44.3">−1</tspan><tspan dy="25.5">·h</tspan><tspan dy="-25.5">−1</tspan></text>
<text x="-306" y="116.8" font-size="65" fill="#FF7A7A" style="font-family:'Liberation Serif','Noto Serif CJK SC','Noto Sans CJK SC',serif;font-weight:300">）</text>
<text x="-1167.6" y="2218" font-size="76.6" class="b" fill="#005856">C<tspan dy="15.7">3</tspan><tspan dy="-15.7">H</tspan><tspan dy="15.7">6</tspan><tspan dy="-15.7"> Conversion(%)</tspan></text>
<text x="-1084.3" y="2431.6" font-size="76.6" class="b" fill="#439A12">H<tspan font-size="50" dy="20.7">2</tspan><tspan dy="-20.7"> efficiency(%)</tspan></text>
</g>
<rect x="393.5" y="46.6" width="108" height="52.5" fill="#A04000" stroke="#000" stroke-width="3" stroke-linejoin="round"/>
<text x="514.3" y="87.8" font-size="47" fill="#000" letter-spacing="0.3">CO<tspan font-size="37" dy="13.1">2</tspan></text>
<rect x="609.5" y="46.6" width="108" height="52.5" fill="#FFAD55" stroke="#000" stroke-width="3" stroke-linejoin="round"/>
<text x="730.3" y="87.8" font-size="47" text-anchor="start" fill="#000" letter-spacing="0.72">Ethanal</text>
<rect x="891.1" y="46.6" width="108" height="52.5" fill="#FFE8B8" stroke="#000" stroke-width="3" stroke-linejoin="round"/>
<text x="1012.0" y="87.8" font-size="47" text-anchor="start" fill="#000" letter-spacing="0.4">Acrolein</text>
<rect x="1193.4" y="46.6" width="108" height="52.5" fill="#92DCE0" stroke="#000" stroke-width="3" stroke-linejoin="round"/>
<text x="1315.0" y="87.8" font-size="47" text-anchor="start" fill="#000" letter-spacing="0.8">Acetone</text>
<rect x="1488.7" y="46.6" width="108" height="52.5" fill="#88B896" stroke="#000" stroke-width="3" stroke-linejoin="round"/>
<text x="1609.3" y="87.8" font-size="47" text-anchor="start" fill="#000" letter-spacing="0.63">Propanal</text>
<rect x="1794.9" y="46.6" width="108" height="52.5" fill="#0E90B0" stroke="#000" stroke-width="3" stroke-linejoin="round"/>
<text x="1915.8" y="87.8" font-size="47" text-anchor="start" fill="#000" letter-spacing="1.4">PO</text>
</svg></body></html>
